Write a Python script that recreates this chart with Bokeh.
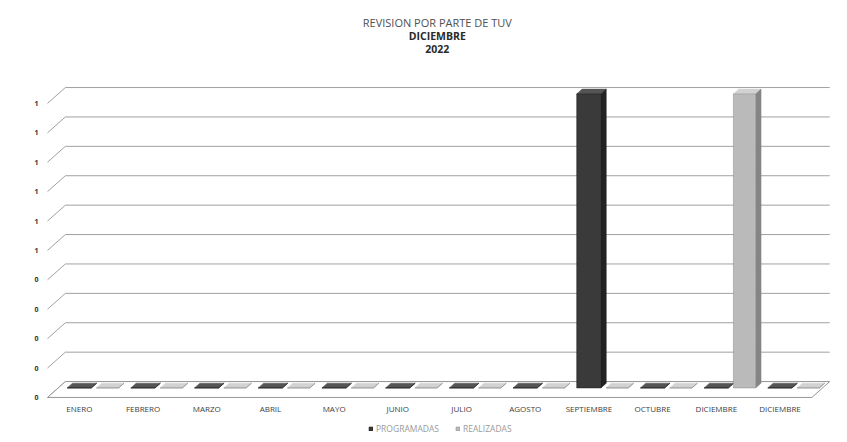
from bokeh.plotting import figure
from bokeh.models import Range1d, ColumnDataSource, Legend, LegendItem
from bokeh.core.properties import value
from bokeh.embed import file_html
from bokeh.resources import INLINE

title_lines = ["REVISION POR PARTE DE TUV", "DICIEMBRE", "2022"]
categories = ["ENERO", "FEBRERO", "MARZO", "ABRIL", "MAYO", "JUNIO", "JULIO",
              "AGOSTO", "SEPTIEMBRE", "OCTUBRE", "DICIEMBRE", "DICIEMBRE"]
programadas = [0, 0, 0, 0, 0, 0, 0, 0, 1, 0, 0, 0]
realizadas = [0, 0, 0, 0, 0, 0, 0, 0, 0, 0, 1, 0]
series_names = ["PROGRAMADAS", "REALIZADAS"]
y_ticks = [0.0, 0.1, 0.2, 0.3, 0.4, 0.5, 0.6, 0.7, 0.8, 0.9, 1.0]
y_tick_labels = ["0", "0", "0", "0", "0", "1", "1", "1", "1", "1", "1"]

# style / 3D depth parameters
DX, DY = 0.28, 0.054          # full wall depth (data units)
FRONT, BACK = 0.6, 0.9        # bar depth fractions
slots = [(0.14, 0.52), (0.60, 0.95)]
front_col = ["#3a3a3a", "#bababa"]
side_col = ["#222222", "#858585"]
top_col = ["#555555", "#d2d2d2"]
FONT = value("Open Sans")

n = len(categories)
p = figure(width=831, height=434, output_backend="svg", toolbar_location=None,
           x_range=Range1d(-0.738, 12.308), y_range=Range1d(-0.126, 1.350),
           x_axis_location=None, y_axis_location=None,
           min_border_left=0, min_border_right=0, min_border_top=0, min_border_bottom=0)
p.outline_line_color = None
p.xgrid.visible = False
p.ygrid.visible = False
p.background_fill_color = "white"
p.border_fill_color = "white"

# back wall gridlines with left-wall diagonal
gx = [[0, DX, n + DX] for t in y_ticks]
gy = [[t, t + DY, t + DY] for t in y_ticks]
p.multi_line(xs=gx, ys=gy, line_color="#a0a0a0", line_width=1)

# value-axis labels
p.text(x=[-0.141] * len(y_ticks), y=y_ticks, text=y_tick_labels,
       text_font=FONT, text_font_size=value("7px"), text_font_style="bold",
       text_color="#333333", text_align="right", text_baseline="middle")

# floor
p.patch(x=[0, n, n + DX, DX], y=[0, 0, DY, DY], fill_color="white",
        line_color="#959595", line_width=1)

fdx, fdy = FRONT * DX, FRONT * DY
bdx, bdy = BACK * DX, BACK * DY
series_vals = [programadas, realizadas]
front_renderers = []
for s, vals in enumerate(series_vals):
    left = [i + slots[s][0] + fdx for i in range(n)]
    right = [i + slots[s][1] + fdx for i in range(n)]
    bottom = [fdy] * n
    top = [v + fdy for v in vals]
    txs = [[i + slots[s][0] + fdx, i + slots[s][1] + fdx, i + slots[s][1] + bdx, i + slots[s][0] + bdx]
           for i in range(n)]
    tys = [[v + fdy, v + fdy, v + bdy, v + bdy] for v in vals]
    p.patches(xs=txs, ys=tys, fill_color=top_col[s], line_color=top_col[s], line_width=0.5)
    sxs = [[i + slots[s][1] + fdx, i + slots[s][1] + bdx, i + slots[s][1] + bdx, i + slots[s][1] + fdx]
           for i in range(n)]
    sys_ = [[fdy, bdy, v + bdy, v + fdy] for v in vals]
    p.patches(xs=sxs, ys=sys_, fill_color=side_col[s], line_color=side_col[s], line_width=0.5)
    src = ColumnDataSource(dict(left=left, right=right, bottom=bottom, top=top))
    r = p.quad(left="left", right="right", bottom="bottom", top="top", source=src,
               fill_color=front_col[s], line_color="#1a1a1a" if s == 0 else "#8a8a8a",
               line_width=0.5)
    front_renderers.append(r)

# category labels
p.text(x=[i + 0.5 for i in range(n)], y=[-0.036] * n, text=categories,
       text_font=FONT, text_font_size=value("8px"), text_color="#404040",
       text_align="center", text_baseline="middle")

# titles
p.text(x=[6.12] * 3, y=[1.276 - 0.046 * k for k in range(3)], text=title_lines,
       text_font=FONT, text_font_size=["11px", "10.5px", "10.5px"],
       text_font_style=["normal", "bold", "bold"],
       text_color=["#505050", "#2a2a2a", "#2a2a2a"],
       text_align="center", text_baseline="middle")

legend = Legend(items=[LegendItem(label=series_names[s], renderers=[front_renderers[s]])
                       for s in range(2)],
                orientation="horizontal", location=(368, 0),
                glyph_width=5, glyph_height=5, label_text_font="Open Sans",
                label_text_font_size="8.5px", label_text_color="#9a9a9a",
                border_line_color=None, background_fill_alpha=0,
                padding=0, margin=0, spacing=16, label_standoff=3, label_height=9)
p.add_layout(legend)

open("out.html", "w").write(file_html(p, INLINE))
